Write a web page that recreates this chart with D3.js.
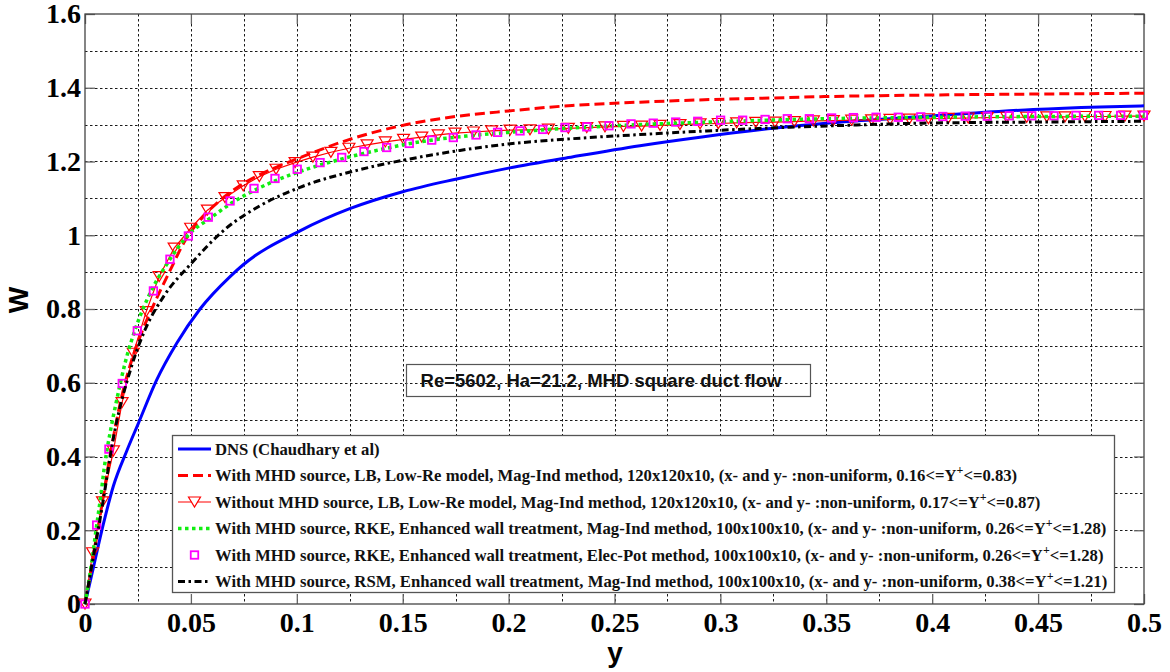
<!DOCTYPE html>
<html>
<head>
<meta charset="utf-8">
<script src="https://cdn.jsdelivr.net/npm/d3@7"></script>
<style>
  html, body { margin: 0; padding: 0; background: #fff; }
  svg { display: block; }
</style>
</head>
<body>
<svg id="chart" width="1170" height="672"></svg>
<script>
// ---- data: distance from wall y vs. axial velocity W ----
const dnsY = [0, 0.004, 0.0086, 0.0134, 0.0197, 0.0252, 0.0338, 0.0433, 0.0543, 0.0685, 0.0747, 0.1015, 0.125, 0.15, 0.175, 0.2, 0.2305, 0.262, 0.2904, 0.325, 0.3486, 0.3958, 0.4163, 0.4477, 0.4792, 0.5];
const dnsW = [0, 0.10, 0.215, 0.32, 0.415, 0.49, 0.607, 0.707, 0.80, 0.888, 0.92, 1.012, 1.072, 1.118, 1.152, 1.182, 1.213, 1.243, 1.266, 1.29, 1.303, 1.322, 1.33, 1.341, 1.348, 1.351];

const lbMhdY = [0, 0.004, 0.008, 0.0126, 0.0173, 0.0216, 0.027, 0.032, 0.0398, 0.0472, 0.0574, 0.066, 0.0747, 0.0905, 0.1, 0.125, 0.15, 0.1676, 0.2, 0.23, 0.262, 0.29, 0.317, 0.349, 0.396, 0.45, 0.5];
const lbMhdW = [0, 0.13, 0.27, 0.427, 0.562, 0.653, 0.74, 0.806, 0.90, 0.985, 1.06, 1.105, 1.14, 1.185, 1.207, 1.26, 1.298, 1.316, 1.337, 1.352, 1.361, 1.367, 1.371, 1.376, 1.38, 1.383, 1.385];

const lbNoMhdY = [0, 0.0036, 0.0083, 0.0134, 0.0175, 0.0228, 0.0289, 0.035, 0.0421, 0.0499, 0.0578, 0.0661, 0.0747, 0.0823, 0.0902, 0.0992, 0.1076, 0.1161, 0.1246, 0.1332, 0.1418, 0.1504, 0.159, 0.1668, 0.1747, 0.1834, 0.192, 0.2007, 0.2101, 0.2188, 0.2282, 0.2369, 0.2455, 0.2542, 0.2628, 0.2715, 0.2809, 0.2904, 0.299, 0.3077, 0.3167, 0.3258, 0.3349, 0.3439, 0.3533, 0.362, 0.3714, 0.3801, 0.3892, 0.3982, 0.4076, 0.417, 0.426, 0.4352, 0.4446, 0.4541, 0.4627, 0.4721, 0.4816, 0.491, 0.5];
const lbNoMhdW = [0, 0.139, 0.277, 0.415, 0.546, 0.68, 0.793, 0.888, 0.965, 1.019, 1.068, 1.102, 1.134, 1.159, 1.179, 1.197, 1.212, 1.225, 1.236, 1.245, 1.253, 1.26, 1.266, 1.272, 1.277, 1.28, 1.283, 1.285, 1.286, 1.288, 1.29, 1.292, 1.294, 1.295, 1.296, 1.298, 1.30, 1.302, 1.303, 1.305, 1.306, 1.307, 1.308, 1.31, 1.311, 1.312, 1.313, 1.314, 1.315, 1.316, 1.317, 1.318, 1.319, 1.32, 1.32, 1.321, 1.321, 1.322, 1.322, 1.323, 1.323];

const rkeMagY = [0, 0.0031, 0.0052, 0.0074, 0.0094, 0.0121, 0.0153, 0.0189, 0.0236, 0.0299, 0.0389, 0.048, 0.06, 0.07, 0.08, 0.09, 0.1, 0.12, 0.14, 0.16, 0.18, 0.2, 0.25, 0.3, 0.35, 0.4, 0.45, 0.5];
const rkeMagW = [0, 0.11, 0.20, 0.291, 0.382, 0.472, 0.562, 0.653, 0.743, 0.833, 0.924, 0.996, 1.05, 1.09, 1.122, 1.148, 1.17, 1.205, 1.233, 1.255, 1.269, 1.279, 1.297, 1.308, 1.316, 1.32, 1.322, 1.323];

const rkeElecY = [0, 0.0055, 0.0113, 0.0176, 0.0247, 0.0323, 0.0401, 0.0488, 0.0582, 0.0685, 0.0798, 0.0897, 0.1002, 0.111, 0.1212, 0.1317, 0.1424, 0.1531, 0.1637, 0.1739, 0.1846, 0.1948, 0.2054, 0.2161, 0.2266, 0.2369, 0.2474, 0.2578, 0.2683, 0.2789, 0.2893, 0.3001, 0.3105, 0.3211, 0.3316, 0.342, 0.3525, 0.3628, 0.3735, 0.384, 0.3946, 0.405, 0.4156, 0.426, 0.4364, 0.447, 0.4575, 0.4679, 0.4786, 0.489, 0.4997];
const rkeElecW = [0, 0.214, 0.42, 0.598, 0.741, 0.849, 0.935, 0.998, 1.049, 1.093, 1.127, 1.154, 1.179, 1.197, 1.211, 1.227, 1.238, 1.249, 1.258, 1.265, 1.272, 1.279, 1.283, 1.287, 1.292, 1.294, 1.297, 1.302, 1.304, 1.307, 1.309, 1.312, 1.312, 1.314, 1.316, 1.316, 1.318, 1.319, 1.32, 1.32, 1.321, 1.322, 1.323, 1.323, 1.324, 1.324, 1.324, 1.325, 1.325, 1.325, 1.325];

const rsmY = [0, 0.004, 0.008, 0.0134, 0.022, 0.0283, 0.037, 0.0496, 0.0669, 0.0826, 0.1015, 0.1298, 0.1534, 0.177, 0.1991, 0.2305, 0.262, 0.2904, 0.3329, 0.3643, 0.3958, 0.45, 0.5];
const rsmW = [0, 0.13, 0.26, 0.45, 0.645, 0.743, 0.833, 0.92, 1.02, 1.08, 1.13, 1.178, 1.207, 1.23, 1.247, 1.262, 1.273, 1.282, 1.293, 1.299, 1.304, 1.307, 1.309];

// ---- axes ----
const xTicks = [0, 0.05, 0.1, 0.15, 0.2, 0.25, 0.3, 0.35, 0.4, 0.45, 0.5];
const xTickLabels = ["0", "0.05", "0.1", "0.15", "0.2", "0.25", "0.3", "0.35", "0.4", "0.45", "0.5"];
const yTicks = [0, 0.2, 0.4, 0.6, 0.8, 1, 1.2, 1.4, 1.6];
const yTickLabels = ["0", "0.2", "0.4", "0.6", "0.8", "1", "1.2", "1.4", "1.6"];

// ---- legend ----
const legendNames = [
  "DNS (Chaudhary et al)",
  "With MHD source, LB, Low-Re model, Mag-Ind method, 120x120x10, (x- and y- :non-uniform, 0.16<=Y",
  "Without MHD source, LB, Low-Re model, Mag-Ind method, 120x120x10, (x- and y- :non-uniform, 0.17<=Y",
  "With MHD source, RKE, Enhanced wall treatment, Mag-Ind method, 100x100x10, (x- and y- :non-uniform, 0.26<=Y",
  "With MHD source, RKE, Enhanced wall treatment, Elec-Pot method, 100x100x10, (x- and y- :non-uniform, 0.26<=Y",
  "With MHD source, RSM, Enhanced wall treatment, Mag-Ind method, 100x100x10, (x- and y- :non-uniform, 0.38<=Y"
];
const legendTails = ["", "<=0.83)", "<=0.87)", "<=1.28)", "<=1.28)", "<=1.21)"];
const noteText = "Re=5602, Ha=21.2, MHD square duct flow";

// ---- layout ----
const svg = d3.select("#chart");
const pL = 85, pR = 1144, pT = 14, pB = 604;
const x = d3.scaleLinear().domain([0, 0.5]).range([pL, pR]);
const y = d3.scaleLinear().domain([0, 1.6]).range([pB, pT]);

// dotted grid at every 0.025 in y-distance and 0.1 in W
const gridX = d3.range(1, 20).map(i => i * 0.025);
const gridY = d3.range(1, 16).map(i => i * 0.1);
const grid = svg.append("g").attr("stroke", "#1a1a1a").attr("stroke-width", 1).attr("stroke-dasharray", "2.5,2.5");
grid.selectAll("line.gx").data(gridX).join("line").attr("class", "gx")
  .attr("x1", d => Math.round(x(d)) + 0.5).attr("x2", d => Math.round(x(d)) + 0.5)
  .attr("y1", pT).attr("y2", pB);
grid.selectAll("line.gy").data(gridY).join("line").attr("class", "gy")
  .attr("y1", d => Math.round(y(d)) + 0.5).attr("y2", d => Math.round(y(d)) + 0.5)
  .attr("x1", pL).attr("x2", pR);

// inward major ticks on all four sides
function styleAxis(g) {
  g.select(".domain").remove();
  g.selectAll(".tick line").attr("stroke", "#666").attr("stroke-width", 1.3);
  g.selectAll(".tick text").attr("font-family", "'Liberation Serif', 'Times New Roman', serif")
    .attr("font-weight", "bold").attr("font-size", 28).attr("fill", "#000");
}
svg.append("g").attr("transform", `translate(0,${pB})`)
  .call(d3.axisBottom(x).tickValues(xTicks).tickFormat((d, i) => xTickLabels[i]).tickSizeInner(-10).tickSizeOuter(0).tickPadding(8))
  .call(styleAxis);
svg.append("g").attr("transform", `translate(0,${pT})`)
  .call(d3.axisTop(x).tickValues(xTicks).tickFormat("").tickSizeInner(-10).tickSizeOuter(0))
  .call(styleAxis);
svg.append("g").attr("transform", `translate(${pL},0)`)
  .call(d3.axisLeft(y).tickValues(yTicks).tickFormat((d, i) => yTickLabels[i]).tickSizeInner(-10).tickSizeOuter(0).tickPadding(4))
  .call(styleAxis);
svg.append("g").attr("transform", `translate(${pR},0)`)
  .call(d3.axisRight(y).tickValues(yTicks).tickFormat("").tickSizeInner(-10).tickSizeOuter(0))
  .call(styleAxis);

// frame
svg.append("rect").attr("x", pL).attr("y", pT).attr("width", pR - pL).attr("height", pB - pT)
  .attr("fill", "none").attr("stroke", "#444").attr("stroke-width", 1.3);

// axis titles
svg.append("text").attr("transform", `translate(28,300) rotate(-90)`).attr("text-anchor", "middle")
  .attr("font-family", "'Liberation Sans', Arial, sans-serif").attr("font-weight", "bold").attr("font-size", 28).text("W");
svg.append("text").attr("x", 615).attr("y", 662).attr("text-anchor", "middle")
  .attr("font-family", "'Liberation Sans', Arial, sans-serif").attr("font-weight", "bold").attr("font-size", 28).text("y");

// ---- series ----
const zip = (a, b) => a.map((v, i) => [v, b[i]]);
const smooth = d3.line().x(d => x(d[0])).y(d => y(d[1])).curve(d3.curveMonotoneX);
const straight = d3.line().x(d => x(d[0])).y(d => y(d[1]));
const plot = svg.append("g");

const styles = {
  dns: { stroke: "#0000ff", width: 3, dash: null },
  lbMhd: { stroke: "#ff0000", width: 3, dash: "10,5" },
  lbNo: { stroke: "#ff0000", width: 1.2, dash: null },
  rkeMag: { stroke: "#11ee11", width: 3.5, dash: "3.5,3.5" },
  rsm: { stroke: "#000000", width: 3, dash: "7,3.5,2.5,3.5" }
};
function drawLine(pts, st, gen) {
  plot.append("path").attr("d", gen(pts)).attr("fill", "none")
    .attr("stroke", st.stroke).attr("stroke-width", st.width)
    .attr("stroke-dasharray", st.dash);
}
const triPath = "M-6,-5L6,-5L0,5Z";
function drawTriangles(g, pts) {
  g.selectAll(null).data(pts).join("path")
    .attr("transform", d => `translate(${x(d[0])},${y(d[1])})`)
    .attr("d", triPath).attr("fill", "none").attr("stroke", "#ff0000").attr("stroke-width", 1.2);
}
function drawSquares(g, pts) {
  g.selectAll(null).data(pts).join("rect")
    .attr("x", d => x(d[0]) - 3.75).attr("y", d => y(d[1]) - 3.75)
    .attr("width", 7.5).attr("height", 7.5)
    .attr("fill", "none").attr("stroke", "#ff00ff").attr("stroke-width", 1.8);
}

drawLine(zip(dnsY, dnsW), styles.dns, smooth);
drawLine(zip(lbMhdY, lbMhdW), styles.lbMhd, smooth);
const triPts = zip(lbNoMhdY, lbNoMhdW);
drawLine(triPts, styles.lbNo, straight);
drawTriangles(plot.append("g"), triPts);
drawLine(zip(rkeMagY, rkeMagW), styles.rkeMag, smooth);
drawSquares(plot.append("g"), zip(rkeElecY, rkeElecW));
drawLine(zip(rsmY, rsmW), styles.rsm, smooth);

// ---- annotation box ----
svg.append("rect").attr("x", 406.5).attr("y", 364.5).attr("width", 404).attr("height", 32)
  .attr("fill", "none").attr("stroke", "#555").attr("stroke-width", 1.2);
svg.append("text").attr("x", 601).attr("y", 387).attr("text-anchor", "middle")
  .attr("font-family", "'Liberation Sans', Arial, sans-serif").attr("font-weight", "bold").attr("font-size", 18.5)
  .attr("fill", "#111").text(noteText);

// ---- legend ----
const lg = svg.append("g");
lg.append("rect").attr("x", 172.5).attr("y", 435.5).attr("width", 942).attr("height", 157)
  .attr("fill", "#fff").attr("stroke", "#555").attr("stroke-width", 1.3);
const rowY = i => 449 + i * 26.5;
const sx0 = 178, sx1 = 211, sxm = (sx0 + sx1) / 2;
const sample = (i, st) => lg.append("line").attr("x1", sx0).attr("x2", sx1).attr("y1", rowY(i)).attr("y2", rowY(i))
  .attr("stroke", st.stroke).attr("stroke-width", st.width).attr("stroke-dasharray", st.dash);
sample(0, styles.dns);
sample(1, styles.lbMhd);
sample(2, styles.lbNo);
lg.append("path").attr("transform", `translate(${sxm},${rowY(2)})`).attr("d", triPath)
  .attr("fill", "#fff").attr("stroke", "#ff0000").attr("stroke-width", 1.2);
sample(3, styles.rkeMag);
lg.append("rect").attr("x", sxm - 3.75).attr("y", rowY(4) - 3.75).attr("width", 7.5).attr("height", 7.5)
  .attr("fill", "none").attr("stroke", "#ff00ff").attr("stroke-width", 1.8);
sample(5, styles.rsm);

legendNames.forEach((name, i) => {
  const t = lg.append("text").attr("x", 215).attr("y", rowY(i) + 5.5)
    .attr("font-family", "'Liberation Serif', 'Times New Roman', serif").attr("font-weight", "bold")
    .attr("font-size", 16.7).attr("fill", "#111");
  t.append("tspan").text(name);
  if (legendTails[i]) {
    t.append("tspan").attr("dy", -7).attr("font-size", 12).text("+");
    t.append("tspan").attr("dy", 7).text(legendTails[i]);
  }
});
</script>
</body>
</html>
